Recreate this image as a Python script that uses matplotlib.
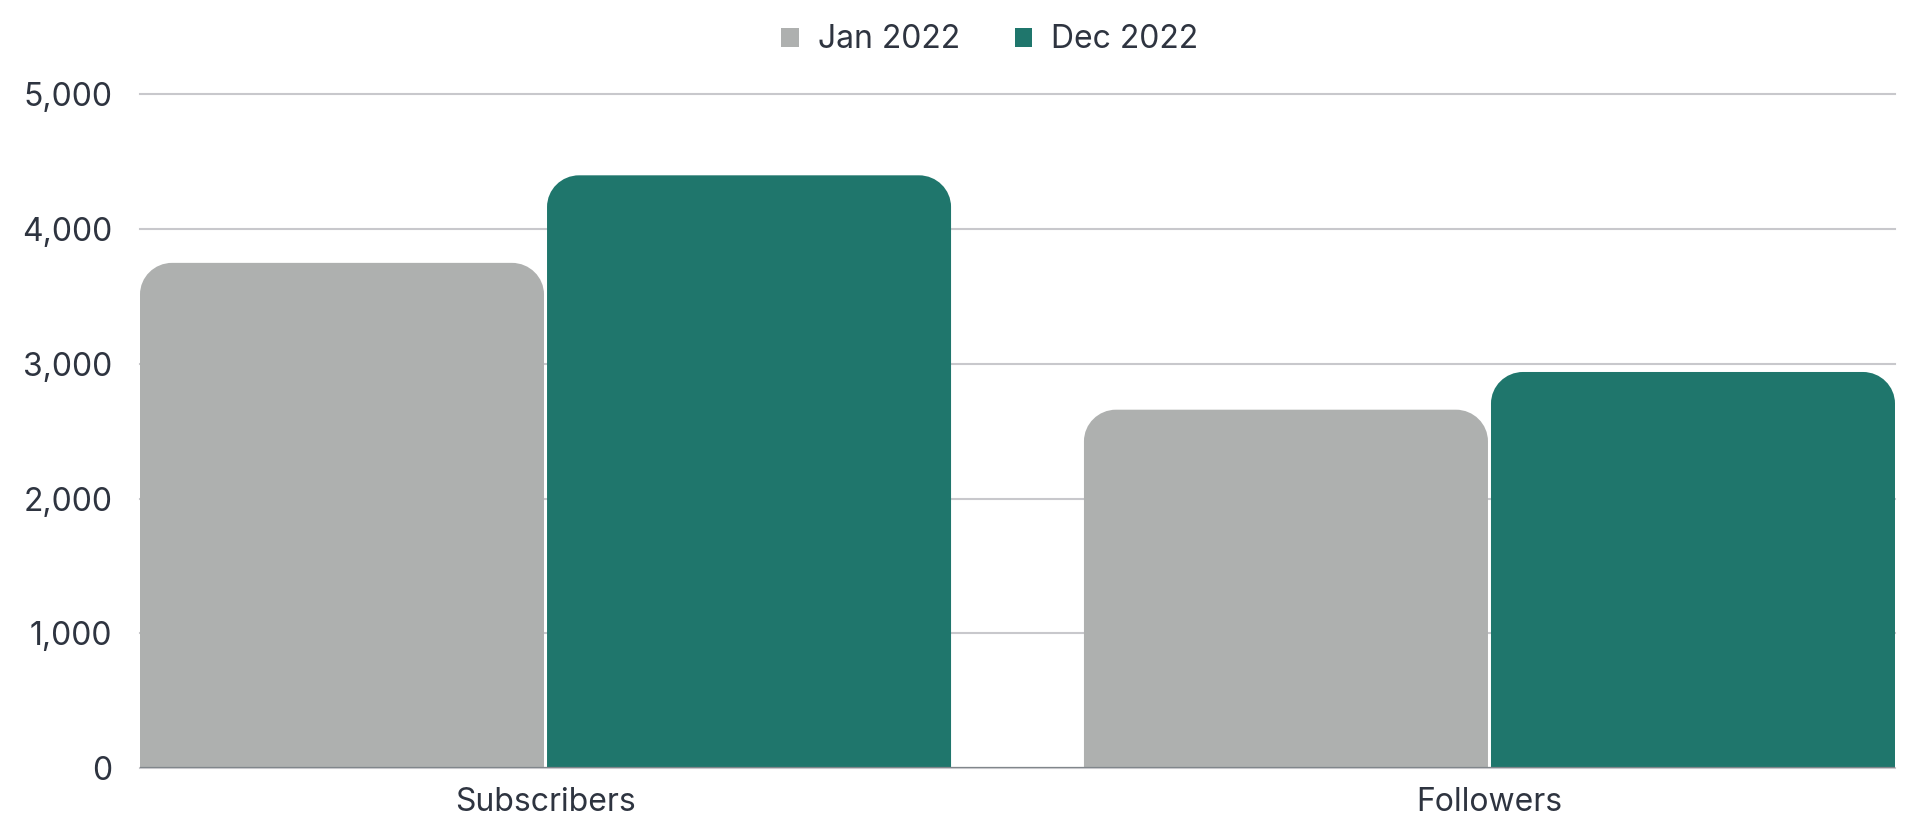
import matplotlib
matplotlib.use("Agg")
import matplotlib.pyplot as plt
from matplotlib.path import Path
from matplotlib.patches import PathPatch, Patch
from matplotlib.ticker import FuncFormatter
import numpy as np

plt.rcParams['font.family'] = ['Inter', 'DejaVu Sans']

categories = ["Subscribers", "Followers"]
series_names = ["Jan 2022", "Dec 2022"]
jan_values = [3750, 2660]
dec_values = [4400, 2940]
colors = ["#aeb0af", "#1f766c"]
text_color = "#2e3440"


def rounded_top(x0, x1, y1, rx, ry):
    # rectangle from y=0 to y1 with rounded top corners
    k = 0.5523
    verts = [
        (x0, 0), (x0, y1 - ry),
        (x0, y1 - ry + k * ry), (x0 + rx - k * rx, y1), (x0 + rx, y1),
        (x1 - rx, y1),
        (x1 - rx + k * rx, y1), (x1, y1 - ry + k * ry), (x1, y1 - ry),
        (x1, 0), (x0, 0),
    ]
    codes = [Path.MOVETO, Path.LINETO,
             Path.CURVE4, Path.CURVE4, Path.CURVE4,
             Path.LINETO,
             Path.CURVE4, Path.CURVE4, Path.CURVE4,
             Path.LINETO, Path.CLOSEPOLY]
    return Path(verts, codes)


fig = plt.figure(figsize=(19.15, 8.16), dpi=100)
ax = fig.add_axes([140 / 1915, 48 / 816, 1755 / 1915, 673.5 / 816])

x = np.arange(len(categories))
offset = 0.2156
width = 0.428

for vals, dx, color in zip([jan_values, dec_values], [-offset, offset], colors):
    bars = ax.bar(x + dx, vals, width=width, color=color)
    for rect in bars:
        rect.set_visible(False)
        x0 = rect.get_x()
        x1 = x0 + rect.get_width()
        h = rect.get_height()
        ax.add_patch(PathPatch(rounded_top(x0, x1, h, 0.034, 235),
                               facecolor=color, edgecolor="none", zorder=3))

ax.set_xlim(-0.4296, 1.4296)
ax.set_ylim(0, 5000)
ax.set_yticks(range(0, 5001, 1000))
ax.yaxis.set_major_formatter(FuncFormatter(lambda v, p: f"{int(v):,}"))
ax.set_xticks(x)
ax.set_xticklabels(categories)

ax.grid(axis="y", color="#c8c8cc", linewidth=1.5, zorder=0)
ax.set_axisbelow(True)
for gl in ax.get_ygridlines():
    gl.set_clip_on(False)
ax.axhline(0, color="#80868b", linewidth=1.6, zorder=4)

for s in ax.spines.values():
    s.set_visible(False)
ax.tick_params(axis="both", length=0, labelsize=23, colors=text_color)
ax.tick_params(axis="y", pad=20)
ax.tick_params(axis="x", pad=14)

handles = [Patch(facecolor=c, edgecolor="none") for c in colors]
fig.legend(handles, series_names, loc="center", bbox_to_anchor=(990 / 1915, 1 - 40 / 816),
           ncol=2, frameon=False, fontsize=23, labelcolor=text_color,
           handlelength=0.55, handleheight=0.55, handletextpad=0.6, columnspacing=1.7)

fig.savefig("out.png", dpi=100)
